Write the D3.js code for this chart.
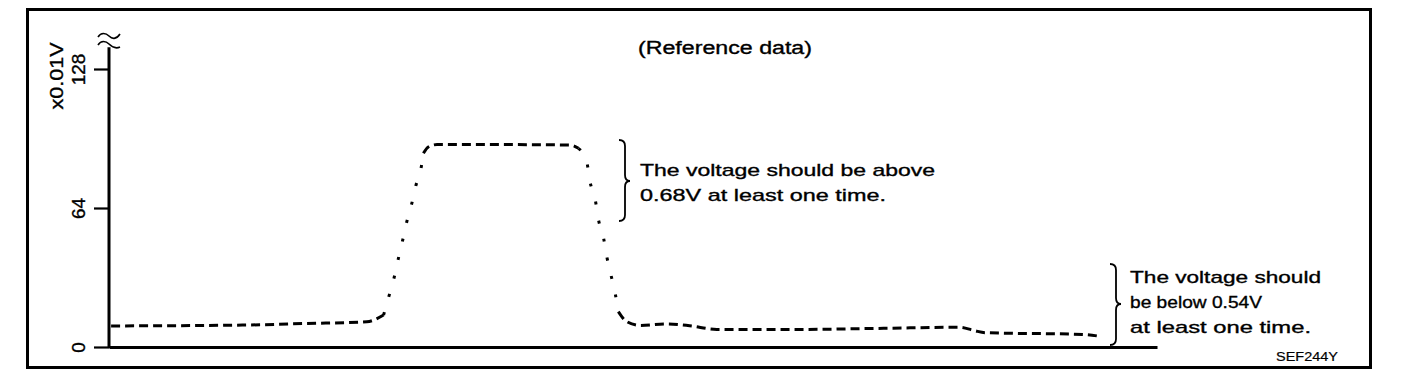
<!DOCTYPE html>
<html>
<head>
<meta charset="utf-8">
<script src="https://cdn.jsdelivr.net/npm/d3@7"></script>
<style>
  body { margin: 0; background: #fff; }
  text { font-family: "Liberation Sans", Arial, Helvetica, sans-serif; fill: #000; stroke: #000; stroke-width: 0.35px; }
</style>
</head>
<body>
<svg id="chart" width="1408" height="378"></svg>
<script>
// time axis has no labels, so it runs 0..100 (arbitrary units)
const times = [0.2, 12.8, 18.7, 24.6, 26.2, 26.7, 27.2, 27.6, 28.0, 28.4, 28.9, 29.3, 29.8, 30.0, 30.5, 31.3,
               37.8, 44.0, 44.8, 45.6, 45.9, 46.4, 46.7, 47.2, 47.5, 47.9, 48.3, 48.6, 49.4, 50.7,
               53.2, 55.4, 58.0, 65.9, 73.9, 81.2, 82.6, 83.6, 92.9, 94.7];
// sensor voltage in x0.01V
const volts = [9.7, 10.1, 10.8, 11.6, 14.7, 23.2, 31.8, 40.5, 48.7, 57.4, 66.2, 74.6, 83.0, 89.2, 92.2, 93.2,
               93.2, 93.0, 91.5, 84.9, 76.1, 67.7, 58.8, 50.0, 41.6, 33.1, 24.7, 16.3, 11.7, 9.9,
               10.6, 9.8, 8.1, 8.1, 8.6, 9.1, 7.5, 6.6, 5.8, 4.8];
const yTicks = [0, 64, 128];
const yTickLabels = ["0", "64", "128"];
const yBreak = 138;
const unitLabel = "x0.01V";
const title = "(Reference data)";
const noteHigh = ["The voltage should be above", "0.68V at least one time."];
const noteLow = ["The voltage should", "be below 0.54V", "at least one time."];
const figId = "SEF244Y";

const svg = d3.select("#chart");

// outer frame
svg.append("rect")
  .attr("x", 27.5).attr("y", 9.5)
  .attr("width", 1343).attr("height", 358)
  .attr("fill", "none").attr("stroke", "#000").attr("stroke-width", 3);

let x = d3.scaleLinear().domain([0, 100]).range([109, 1157]);
let y = d3.scaleLinear().domain([0, 128]).range([347, 69]);

// y axis
let yAxis = svg.append("g")
  .attr("transform", `translate(${x(0)},0)`)
  .call(d3.axisLeft(y).tickValues(yTicks).tickSize(15).tickSizeOuter(0)
    .tickFormat((d, i) => yTickLabels[i]));
yAxis.select(".domain").remove();
yAxis.selectAll(".tick line").attr("stroke", "#000").attr("stroke-width", 2.2);
yAxis.selectAll(".tick text")
  .attr("x", null).attr("dy", null)
  .attr("text-anchor", "middle")
  .attr("transform", "translate(-24,0) rotate(-90)")
  .style("font-size", "19px")
  .style("font-family", "'Liberation Sans', Arial, sans-serif");

svg.append("line")
  .attr("x1", x(0)).attr("x2", x(0))
  .attr("y1", y(0) + 1).attr("y2", y(yBreak))
  .attr("stroke", "#000").attr("stroke-width", 3);

// break mark at top of y axis
svg.append("path")
  .attr("d", "M98,37 C101,32 106,33 109,36 S116,40 120,34 M98,45 C101,40 106,41 109,44 S116,49 120,47")
  .attr("fill", "none").attr("stroke", "#000").attr("stroke-width", 1.6);

svg.append("text")
  .attr("transform", "translate(63,76) rotate(-90)")
  .attr("text-anchor", "middle")
  .attr("textLength", 67).attr("lengthAdjust", "spacingAndGlyphs")
  .style("font-size", "19px")
  .text(unitLabel);

// x axis (no ticks)
let xAxis = svg.append("g")
  .attr("transform", `translate(0,${y(0)})`)
  .call(d3.axisBottom(x).tickValues([]).tickSizeOuter(0));
xAxis.select(".domain").attr("stroke", "#000").attr("stroke-width", 3);

// the trace: dashed where flat, dotted where it climbs or drops
let pts = times.map((t, i) => ({ t: t, v: volts[i] }));
let runs = [];
for (let i = 1; i < pts.length; i++) {
  let a = pts[i - 1], b = pts[i];
  let steep = Math.abs(y(b.v) - y(a.v)) > 1.5 * Math.abs(x(b.t) - x(a.t));
  let last = runs[runs.length - 1];
  if (last && last.steep === steep) last.pts.push(b);
  else runs.push({ steep: steep, pts: [a, b] });
}

let line = d3.line()
  .x(d => x(d.t))
  .y(d => y(d.v))
  .curve(d3.curveMonotoneX);

runs.forEach(r => {
  svg.append("path")
    .datum(r.pts)
    .attr("d", line)
    .attr("fill", "none")
    .attr("stroke", "#000")
    .attr("stroke-width", 3)
    .attr("stroke-dasharray", r.steep ? "3,16" : "9,5");
});

// title
svg.append("text")
  .attr("x", 638).attr("y", 54)
  .attr("textLength", 174).attr("lengthAdjust", "spacingAndGlyphs")
  .style("font-size", "18px")
  .text(title);

function brace(xv, y0, y1, ym) {
  let w = 6, d = 5;
  return `M${xv - w},${y0} Q${xv},${y0} ${xv},${y0 + w} L${xv},${ym - w} Q${xv},${ym} ${xv + d},${ym} ` +
         `Q${xv},${ym} ${xv},${ym + w} L${xv},${y1 - w} Q${xv},${y1} ${xv - w},${y1}`;
}

svg.append("path")
  .attr("d", brace(625, 140, 221, 181))
  .attr("fill", "none").attr("stroke", "#000").attr("stroke-width", 1.8);
svg.append("path")
  .attr("d", brace(1116, 264, 345, 304))
  .attr("fill", "none").attr("stroke", "#000").attr("stroke-width", 1.8);

const highLen = [295, 246];
svg.selectAll(".note-high")
  .data(noteHigh)
  .enter().append("text")
  .attr("class", "note-high")
  .attr("x", 640)
  .attr("y", (d, i) => 176 + i * 25)
  .attr("textLength", (d, i) => highLen[i]).attr("lengthAdjust", "spacingAndGlyphs")
  .style("font-size", "17px")
  .text(d => d);

const lowLen = [191, 132, 181];
const lowY = [283, 308, 333];
svg.selectAll(".note-low")
  .data(noteLow)
  .enter().append("text")
  .attr("class", "note-low")
  .attr("x", 1130)
  .attr("y", (d, i) => lowY[i])
  .attr("textLength", (d, i) => lowLen[i]).attr("lengthAdjust", "spacingAndGlyphs")
  .style("font-size", "17px")
  .text(d => d);

svg.append("text")
  .attr("x", 1338).attr("y", 361)
  .attr("text-anchor", "end")
  .attr("textLength", 62).attr("lengthAdjust", "spacingAndGlyphs")
  .style("font-size", "12px")
  .style("stroke-width", "0.2px")
  .text(figId);
</script>
</body>
</html>
